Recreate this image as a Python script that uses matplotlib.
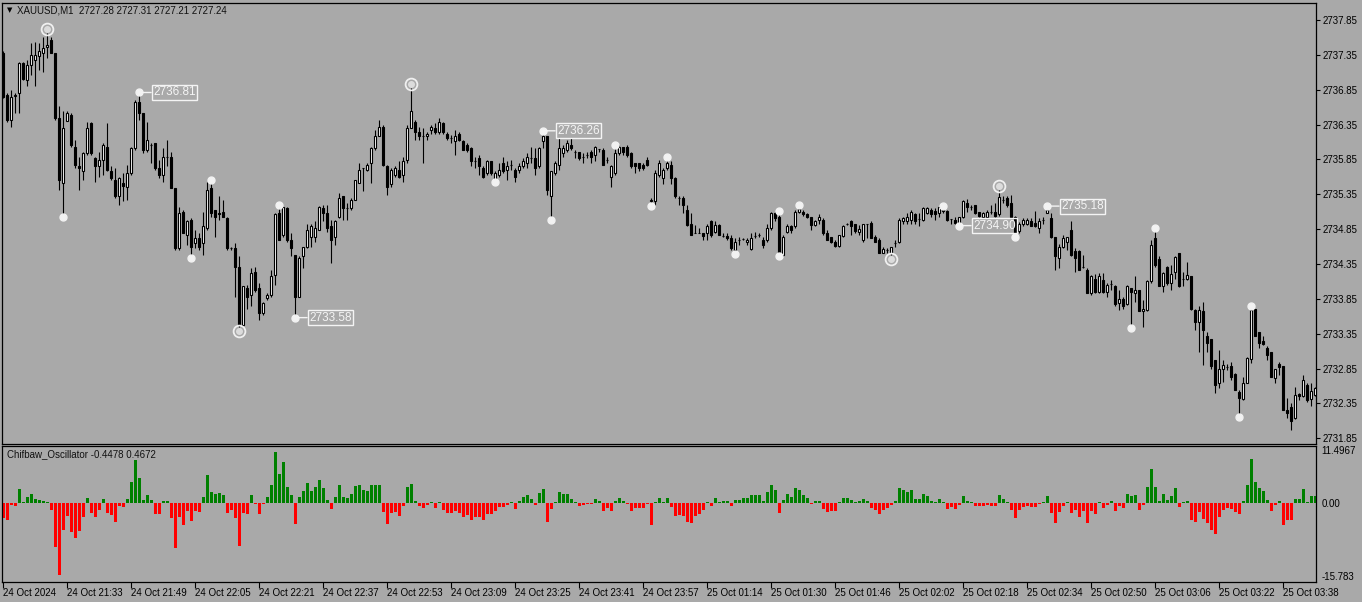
import matplotlib
matplotlib.use('Agg')
import matplotlib.pyplot as plt
import numpy as np
from matplotlib import transforms

plt.rcParams['font.family'] = ['Liberation Sans', 'DejaVu Sans']

# ---------------- data ----------------
opens = [
 2737.37, 2736.78, 2736.42, 2736.76, 2736.80, 2737.23, 2736.99, 2737.21, 2737.28, 2737.33,
 2737.37, 2737.46, 2737.56, 2737.37, 2736.44, 2735.51, 2736.40, 2736.49, 2736.03, 2735.75,
 2735.68, 2735.94, 2736.37, 2735.87, 2735.75, 2735.84, 2736.03, 2735.68, 2735.56, 2735.32,
 2735.51, 2735.46, 2735.65, 2736.01, 2736.68, 2736.51, 2735.99, 2736.06, 2736.08, 2735.72,
 2735.63, 2735.89, 2735.89, 2735.44, 2734.58, 2735.10, 2734.77, 2734.98, 2734.65, 2734.72,
 2734.65, 2734.86, 2735.44, 2735.13, 2735.08, 2735.10, 2735.01, 2734.58, 2734.58, 2734.31,
 2733.47, 2734.00, 2733.90, 2734.24, 2734.00, 2733.64, 2733.86, 2733.90, 2734.19, 2735.08,
 2734.77, 2735.15, 2734.70, 2734.48, 2733.88, 2734.46, 2734.60, 2734.74, 2734.74, 2734.84,
 2735.15, 2735.08, 2734.89, 2734.74, 2735.03, 2735.32, 2735.15, 2735.15, 2735.27, 2735.51,
 2735.72, 2735.70, 2735.80, 2736.01, 2736.18, 2736.32, 2735.75, 2735.49, 2735.63, 2735.70,
 2735.63, 2735.84, 2736.30, 2736.39, 2736.25, 2736.18, 2736.18, 2736.27, 2736.30, 2736.25,
 2736.37, 2736.22, 2736.15, 2736.11, 2736.22, 2736.11, 2736.06, 2736.01, 2735.82, 2735.87,
 2735.72, 2735.65, 2735.82, 2735.56, 2735.63, 2735.80, 2735.70, 2735.77, 2735.70, 2735.70,
 2735.75, 2735.80, 2735.87, 2735.87, 2735.75, 2736.11, 2736.18, 2735.32, 2735.65, 2735.77,
 2735.94, 2735.99, 2736.06, 2735.96, 2735.96, 2735.89, 2735.92, 2735.96, 2735.92, 2736.00,
 2735.99, 2735.84, 2735.60, 2735.65, 2735.94, 2736.03, 2736.03, 2735.94, 2735.80, 2735.80,
 2735.77, 2735.84, 2735.25, 2735.25, 2735.63, 2735.58, 2735.72, 2735.77, 2735.58, 2735.29,
 2735.29, 2735.13, 2734.93, 2734.79, 2734.79, 2734.79, 2734.79, 2734.96, 2734.81, 2734.91,
 2734.75, 2734.75, 2734.72, 2734.55, 2734.70, 2734.71, 2734.66, 2734.56, 2734.75, 2734.77,
 2734.70, 2734.70, 2734.86, 2735.08, 2735.03, 2734.48, 2734.81, 2734.89, 2734.89, 2735.10,
 2735.10, 2735.06, 2735.03, 2734.91, 2734.98, 2734.98, 2734.80, 2734.74, 2734.67, 2734.61,
 2734.75, 2734.93, 2734.96, 2734.93, 2734.81, 2734.70, 2734.93, 2734.94, 2734.74, 2734.70,
 2734.51, 2734.55, 2734.51, 2734.65, 2734.67, 2734.96, 2734.96, 2734.98, 2735.06, 2735.00,
 2734.98, 2735.08, 2735.13, 2735.11, 2735.08, 2735.15, 2735.11, 2735.00, 2734.98, 2734.93,
 2735.03, 2735.22, 2735.16, 2735.20, 2735.10, 2735.03, 2735.03, 2735.09, 2735.09, 2735.06,
 2735.27, 2735.29, 2735.22, 2735.03, 2734.82, 2734.93, 2734.93, 2734.96, 2734.94, 2734.86,
 2734.98, 2735.08, 2735.01, 2734.74, 2734.43, 2734.60, 2734.67, 2734.84, 2734.53, 2734.53,
 2734.31, 2734.27, 2733.93, 2734.14, 2733.95, 2734.12, 2733.95, 2734.06, 2734.03, 2733.79,
 2733.84, 2733.77, 2734.00, 2733.93, 2733.98, 2733.67, 2733.69, 2734.10, 2734.72, 2734.42,
 2734.03, 2734.31, 2734.08, 2734.24, 2734.50, 2734.14, 2734.14, 2734.17, 2733.69, 2733.52,
 2733.67, 2733.32, 2733.27, 2732.97, 2732.64, 2732.84, 2732.87, 2732.88, 2732.77, 2732.52,
 2732.41, 2732.64, 2732.98, 2733.70, 2733.38, 2733.25, 2733.14, 2733.08, 2732.71, 2732.92,
 2732.88, 2732.26, 2732.30, 2732.14, 2732.49, 2732.45, 2732.62, 2732.41, 2732.47]

highs = [
 2737.40, 2736.80, 2736.85, 2736.80, 2737.25, 2737.25, 2737.28, 2737.52, 2737.54, 2737.52,
 2737.61, 2737.66, 2737.60, 2737.38, 2736.61, 2736.54, 2736.54, 2736.51, 2736.13, 2735.89,
 2735.96, 2736.39, 2736.39, 2735.89, 2735.96, 2736.08, 2736.37, 2735.75, 2735.72, 2735.60,
 2735.65, 2735.77, 2736.03, 2736.70, 2736.81, 2736.51, 2736.39, 2736.08, 2736.08, 2735.84,
 2736.01, 2736.13, 2735.96, 2735.44, 2735.17, 2735.13, 2734.98, 2735.01, 2734.84, 2734.79,
 2735.10, 2735.53, 2735.56, 2735.13, 2735.32, 2735.27, 2735.03, 2734.60, 2734.65, 2734.46,
 2734.03, 2734.05, 2734.29, 2734.31, 2734.08, 2733.81, 2733.93, 2734.27, 2735.08, 2735.20,
 2735.17, 2735.17, 2734.79, 2734.48, 2734.46, 2734.60, 2734.93, 2734.93, 2734.96, 2735.18,
 2735.19, 2735.19, 2734.98, 2734.98, 2735.37, 2735.32, 2735.22, 2735.29, 2735.56, 2735.80,
 2735.73, 2735.80, 2736.03, 2736.27, 2736.42, 2736.35, 2735.77, 2735.72, 2735.75, 2735.82,
 2735.89, 2736.35, 2736.87, 2736.42, 2736.32, 2736.30, 2736.25, 2736.35, 2736.37, 2736.44,
 2736.39, 2736.25, 2736.20, 2736.27, 2736.25, 2736.13, 2736.08, 2736.03, 2735.89, 2735.92,
 2735.75, 2735.84, 2735.82, 2735.68, 2735.80, 2735.89, 2735.82, 2735.84, 2735.72, 2735.80,
 2735.87, 2735.94, 2736.03, 2736.01, 2736.03, 2736.26, 2736.18, 2735.68, 2735.82, 2736.15,
 2736.06, 2736.13, 2736.15, 2735.99, 2735.96, 2735.94, 2735.96, 2735.99, 2736.04, 2736.00,
 2736.01, 2735.89, 2735.77, 2736.06, 2736.05, 2736.03, 2736.05, 2735.96, 2735.80, 2735.80,
 2735.80, 2735.89, 2735.30, 2735.70, 2735.84, 2735.72, 2735.89, 2735.82, 2735.60, 2735.32,
 2735.32, 2735.20, 2735.08, 2734.91, 2734.86, 2734.79, 2734.93, 2734.98, 2734.96, 2734.93,
 2734.79, 2734.79, 2734.77, 2734.72, 2734.74, 2734.72, 2734.72, 2734.79, 2734.81, 2734.79,
 2734.74, 2734.93, 2735.10, 2735.10, 2735.11, 2734.77, 2734.93, 2734.91, 2735.13, 2735.20,
 2735.13, 2735.08, 2735.03, 2734.98, 2735.06, 2735.01, 2734.84, 2734.74, 2734.70, 2734.77,
 2734.91, 2734.94, 2734.98, 2734.93, 2734.91, 2734.93, 2734.93, 2734.96, 2734.77, 2734.72,
 2734.60, 2734.58, 2734.60, 2734.70, 2735.01, 2735.03, 2735.08, 2735.13, 2735.08, 2735.08,
 2735.17, 2735.17, 2735.15, 2735.15, 2735.17, 2735.18, 2735.13, 2735.00, 2735.03, 2735.03,
 2735.27, 2735.28, 2735.20, 2735.20, 2735.10, 2735.10, 2735.13, 2735.20, 2735.22, 2735.41,
 2735.32, 2735.32, 2735.34, 2735.04, 2734.95, 2735.01, 2735.01, 2735.01, 2735.11, 2735.01,
 2735.03, 2735.18, 2735.08, 2734.74, 2734.63, 2734.77, 2734.74, 2734.96, 2734.58, 2734.55,
 2734.48, 2734.29, 2734.19, 2734.21, 2734.22, 2734.22, 2734.07, 2734.12, 2734.05, 2733.98,
 2733.88, 2734.05, 2734.01, 2734.17, 2733.98, 2733.83, 2734.12, 2734.70, 2734.87, 2734.46,
 2734.24, 2734.32, 2734.34, 2734.46, 2734.51, 2734.24, 2734.38, 2734.17, 2733.71, 2733.74,
 2733.81, 2733.38, 2733.28, 2732.97, 2733.12, 2732.97, 2732.92, 2732.95, 2732.78, 2732.54,
 2732.73, 2733.02, 2733.75, 2733.71, 2733.38, 2733.31, 2733.17, 2733.08, 2732.85, 2732.95,
 2732.88, 2732.42, 2732.35, 2732.59, 2732.50, 2732.76, 2732.64, 2732.64, 2732.59]

lows = [
 2736.73, 2736.39, 2736.32, 2736.51, 2736.51, 2736.99, 2736.90, 2737.06, 2736.90, 2737.13,
 2737.11, 2737.30, 2737.37, 2736.42, 2735.41, 2735.03, 2736.40, 2736.03, 2735.72, 2735.41,
 2735.56, 2735.92, 2735.92, 2735.53, 2735.60, 2735.63, 2735.68, 2735.56, 2735.29, 2735.20,
 2735.25, 2735.27, 2735.63, 2735.99, 2736.42, 2735.94, 2735.96, 2735.80, 2735.70, 2735.58,
 2735.53, 2735.75, 2735.44, 2734.55, 2734.55, 2734.79, 2734.62, 2734.43, 2734.58, 2734.55,
 2734.48, 2734.84, 2735.03, 2734.74, 2734.98, 2735.03, 2734.55, 2734.55, 2733.88, 2733.45,
 2733.46, 2733.71, 2733.74, 2733.95, 2733.55, 2733.62, 2733.83, 2733.88, 2734.05, 2734.70,
 2734.74, 2734.67, 2734.46, 2733.58, 2733.88, 2734.29, 2734.58, 2734.60, 2734.67, 2734.84,
 2734.96, 2734.81, 2734.36, 2734.62, 2735.01, 2734.98, 2734.98, 2735.13, 2735.27, 2735.51,
 2735.39, 2735.68, 2735.51, 2735.99, 2736.18, 2735.75, 2735.34, 2735.46, 2735.60, 2735.58,
 2735.53, 2735.80, 2736.30, 2736.13, 2736.13, 2735.80, 2736.13, 2736.22, 2736.22, 2736.22,
 2736.22, 2736.13, 2736.08, 2735.92, 2736.11, 2735.99, 2735.96, 2735.75, 2735.72, 2735.63,
 2735.58, 2735.63, 2735.63, 2735.52, 2735.60, 2735.65, 2735.56, 2735.70, 2735.53, 2735.65,
 2735.72, 2735.72, 2735.80, 2735.63, 2735.72, 2736.01, 2735.34, 2734.98, 2735.63, 2735.70,
 2735.89, 2735.96, 2735.99, 2735.87, 2735.84, 2735.80, 2735.87, 2735.80, 2735.82, 2735.96,
 2735.77, 2735.80, 2735.46, 2735.63, 2735.92, 2735.92, 2735.89, 2735.72, 2735.65, 2735.68,
 2735.70, 2735.75, 2735.18, 2735.20, 2735.60, 2735.49, 2735.70, 2735.49, 2735.29, 2735.20,
 2735.08, 2734.89, 2734.77, 2734.79, 2734.79, 2734.70, 2734.70, 2734.74, 2734.79, 2734.77,
 2734.73, 2734.70, 2734.55, 2734.49, 2734.62, 2734.70, 2734.62, 2734.55, 2734.72, 2734.73,
 2734.58, 2734.67, 2734.84, 2734.96, 2734.46, 2734.47, 2734.79, 2734.79, 2734.86, 2735.08,
 2735.04, 2735.01, 2734.84, 2734.89, 2734.93, 2734.77, 2734.70, 2734.65, 2734.60, 2734.60,
 2734.74, 2734.91, 2734.77, 2734.79, 2734.77, 2734.67, 2734.72, 2734.72, 2734.67, 2734.50,
 2734.50, 2734.51, 2734.48, 2734.60, 2734.65, 2734.93, 2734.93, 2734.93, 2734.93, 2734.89,
 2734.96, 2735.06, 2735.03, 2734.98, 2735.03, 2735.08, 2734.97, 2734.93, 2734.93, 2734.90,
 2735.01, 2735.10, 2735.13, 2735.06, 2735.03, 2735.01, 2735.01, 2735.06, 2735.03, 2735.04,
 2735.22, 2735.17, 2735.01, 2734.74, 2734.79, 2734.89, 2734.91, 2734.89, 2734.88, 2734.79,
 2734.93, 2735.08, 2734.72, 2734.27, 2734.29, 2734.58, 2734.55, 2734.46, 2734.24, 2734.27,
 2734.29, 2733.93, 2733.91, 2733.93, 2733.93, 2733.93, 2733.88, 2733.98, 2733.75, 2733.69,
 2733.71, 2733.76, 2733.43, 2733.81, 2733.67, 2733.45, 2733.67, 2734.08, 2734.31, 2734.03,
 2733.95, 2734.05, 2733.98, 2734.14, 2734.02, 2734.03, 2734.12, 2733.69, 2733.40, 2733.08,
 2732.90, 2733.09, 2732.85, 2732.50, 2732.57, 2732.66, 2732.83, 2732.69, 2732.54, 2732.15,
 2732.40, 2732.64, 2732.93, 2733.31, 2733.14, 2733.19, 2732.97, 2732.73, 2732.64, 2732.76,
 2732.25, 2732.14, 2731.97, 2732.12, 2732.40, 2732.44, 2732.37, 2732.31, 2732.45]

closes = [
 2736.75, 2736.42, 2736.75, 2736.78, 2737.23, 2737.01, 2737.21, 2737.35, 2737.35, 2737.40,
 2737.45, 2737.49, 2737.38, 2736.44, 2735.56, 2736.30, 2736.51, 2736.06, 2735.77, 2735.73,
 2735.94, 2736.30, 2735.94, 2735.75, 2735.84, 2736.06, 2735.70, 2735.58, 2735.32, 2735.58,
 2735.47, 2735.65, 2736.01, 2736.68, 2736.51, 2735.99, 2736.13, 2736.06, 2735.72, 2735.63,
 2735.89, 2735.89, 2735.44, 2734.58, 2735.08, 2734.79, 2734.96, 2734.60, 2734.72, 2734.60,
 2734.89, 2735.41, 2735.08, 2735.03, 2735.06, 2735.03, 2734.58, 2734.58, 2734.31, 2733.47,
 2734.03, 2733.88, 2734.22, 2733.98, 2733.64, 2733.79, 2733.90, 2734.18, 2735.06, 2734.70,
 2735.17, 2734.70, 2734.58, 2733.88, 2734.43, 2734.60, 2734.84, 2734.89, 2734.87, 2735.17,
 2735.08, 2734.86, 2734.70, 2734.96, 2735.29, 2735.15, 2735.15, 2735.27, 2735.56, 2735.70,
 2735.72, 2735.77, 2736.01, 2736.18, 2736.32, 2735.77, 2735.46, 2735.70, 2735.72, 2735.60,
 2735.82, 2736.30, 2736.54, 2736.25, 2736.18, 2736.18, 2736.22, 2736.32, 2736.25, 2736.39,
 2736.25, 2736.15, 2736.15, 2736.19, 2736.13, 2735.99, 2735.99, 2735.82, 2735.82, 2735.75,
 2735.60, 2735.82, 2735.65, 2735.65, 2735.70, 2735.68, 2735.75, 2735.77, 2735.60, 2735.75,
 2735.82, 2735.89, 2735.87, 2735.72, 2736.01, 2736.18, 2735.41, 2735.68, 2735.80, 2736.01,
 2736.01, 2736.08, 2736.01, 2735.96, 2735.87, 2735.89, 2735.92, 2735.89, 2736.03, 2736.00,
 2735.77, 2735.84, 2735.75, 2735.94, 2736.03, 2735.96, 2735.92, 2735.75, 2735.75, 2735.72,
 2735.72, 2735.77, 2735.27, 2735.65, 2735.80, 2735.70, 2735.80, 2735.58, 2735.32, 2735.29,
 2735.20, 2734.91, 2734.77, 2734.79, 2734.79, 2734.75, 2734.89, 2734.77, 2734.91, 2734.77,
 2734.75, 2734.72, 2734.58, 2734.67, 2734.70, 2734.71, 2734.70, 2734.72, 2734.75, 2734.77,
 2734.62, 2734.86, 2735.08, 2735.01, 2734.51, 2734.74, 2734.89, 2734.84, 2735.10, 2735.14,
 2735.06, 2735.03, 2734.91, 2734.97, 2735.03, 2734.80, 2734.70, 2734.66, 2734.61, 2734.77,
 2734.89, 2734.93, 2734.89, 2734.82, 2734.85, 2734.93, 2734.93, 2734.72, 2734.67, 2734.51,
 2734.56, 2734.55, 2734.60, 2734.65, 2734.98, 2735.01, 2735.02, 2735.10, 2734.97, 2735.00,
 2735.15, 2735.15, 2735.06, 2735.06, 2735.16, 2735.11, 2734.98, 2735.00, 2734.94, 2735.03,
 2735.25, 2735.17, 2735.16, 2735.08, 2735.04, 2735.08, 2735.10, 2735.09, 2735.04, 2735.31,
 2735.27, 2735.20, 2735.03, 2734.79, 2734.93, 2734.98, 2734.98, 2734.89, 2734.89, 2734.96,
 2734.98, 2735.13, 2734.74, 2734.46, 2734.60, 2734.72, 2734.74, 2734.48, 2734.43, 2734.27,
 2734.31, 2733.93, 2734.17, 2733.95, 2734.17, 2733.95, 2734.05, 2734.06, 2733.77, 2733.84,
 2733.75, 2734.03, 2733.95, 2733.98, 2733.67, 2733.70, 2734.10, 2734.62, 2734.34, 2734.03,
 2734.22, 2734.08, 2734.21, 2734.45, 2734.03, 2734.14, 2734.19, 2733.70, 2733.52, 2733.69,
 2733.40, 2733.21, 2732.89, 2732.61, 2732.84, 2732.90, 2732.87, 2732.73, 2732.54, 2732.43,
 2732.64, 2733.00, 2733.69, 2733.31, 2733.22, 2733.20, 2733.04, 2732.73, 2732.84, 2732.87,
 2732.26, 2732.21, 2732.09, 2732.47, 2732.45, 2732.69, 2732.40, 2732.53, 2732.57]

oscillator = [
 -3.0, -3.4, -0.53, -0.73, 2.8, 0.2, 1.13, 1.8, 0.73, 0.6,
 0.33, 0.2, -1.4, -8.9, -14.4, -5.5, -2.7, -5.9, -7.1, -5.7,
 -2.9, 1.0, -2.1, -2.9, -1.4, 0.8, -2.1, -2.4, -3.9, -0.73,
 -0.93, 0.8, 4.1, 8.6, 5.0, 0.6, 1.6, 0.6, -2.3, -2.3,
 0.4, 0.4, -3.1, -9.1, -2.9, -4.5, -1.7, -3.7, -1.7, -1.9,
 1.2, 5.5, 2.1, 1.7, 1.9, 1.6, -2.1, -1.5, -3.1, -8.7,
 -2.1, -2.3, 1.5, -0.3, -2.3, -0.3, 1.2, 3.6, 10.1, 5.7,
 8.2, 3.1, 1.5, -4.3, 1.2, 2.4, 4.0, 2.4, 3.1, 4.6,
 2.9, 0.6, -1.3, 1.2, 3.6, 1.2, 1.0, 1.7, 3.4, 3.5,
 2.6, 2.3, 3.5, 3.6, 3.6, -1.9, -4.3, -2.1, -1.9, -2.7,
 -0.7, 3.2, 3.8, 0.4, -0.7, -1.1, -0.5, 0.1, -1.1, 0.1,
 -1.5, -2.1, -2.1, -1.7, -2.0, -2.9, -2.5, -3.5, -2.9, -2.9,
 -3.5, -2.2, -2.3, -1.7, -0.9, -0.9, -0.4, 0.2, -1.2, 0.4,
 1.1, 1.5, 0.8, -0.5, 2.0, 2.8, -3.9, -1.2, 0.2, 2.1,
 1.7, 1.7, 0.8, 0.2, -0.7, -0.5, -0.3, -0.3, 0.8, 0.4,
 -1.7, -1.1, -1.6, 0.4, 1.0, 0.4, -0.3, -1.6, -1.1, -1.1,
 -1.1, -0.3, -4.5, 0.2, 1.0, 0.2, 1.0, -0.9, -2.7, -2.4,
 -2.7, -3.9, -4.1, -2.7, -2.2, -1.4, 0.2, -0.7, 1.0, 0.1,
 0.3, 0.3, -0.7, 0.6, 0.6, 1.0, 1.0, 1.5, 1.6, 1.6,
 0.4, 2.1, 3.6, 2.6, -2.1, 0.6, 1.8, 1.2, 2.9, 2.5,
 1.5, 1.0, -0.3, 0.4, 0.4, -1.3, -1.9, -1.6, -1.6, 0.2,
 1.0, 1.0, 0.6, 0.1, 0.4, 0.8, 0.4, -1.1, -1.4, -2.3,
 -1.4, -1.1, -0.5, 0.4, 3.0, 2.6, 2.2, 2.5, 0.8, 0.8,
 1.8, 1.3, 0.4, 0.2, 0.8, 0.2, -1.2, -0.9, -1.2, -0.5,
 1.4, 0.4, 0.2, -0.7, -0.6, -0.7, -0.5, -0.7, -0.7, 1.6,
 0.8, 0.2, -1.5, -3.1, -1.5, -0.9, -0.6, -0.9, -0.9, -0.3,
 0.2, 1.4, -2.1, -4.1, -1.9, -0.7, 0.2, -2.1, -1.5, -2.9,
 -1.6, -4.1, -1.6, -2.3, 0.2, -1.1, -0.4, 0.4, -1.7, -0.7,
 -1.0, 1.8, 1.4, 1.6, -1.4, -0.5, 3.2, 6.8, 3.2, 0.3,
 1.8, 0.6, 1.4, 3.0, -0.9, 0.2, 0.3, -3.4, -3.9, -1.9,
 -3.2, -4.1, -5.4, -6.3, -2.9, -1.4, -1.1, -1.3, -1.9, -2.3,
 0.4, 3.6, 8.8, 4.2, 3.0, 2.4, 0.6, -1.7, -0.5, 0.4,
 -4.5, -3.5, -3.5, 0.8, 0.8, 2.8, 0.2, 1.4, 1.4]

# swing points (bar indices)
major_highs = [11, 102, 249]
major_lows = [59, 222]
dot_highs = [34, 52, 69, 135, 153, 166, 194, 199, 235, 261, 288, 312]
dot_lows = [15, 47, 73, 123, 137, 162, 183, 194, 239, 253, 282, 309]
labelled_highs = [34, 135, 261]
labelled_lows = [73, 239]

price_ticks = [2731.85, 2732.35, 2732.85, 2733.35, 2733.85, 2734.35, 2734.85,
               2735.35, 2735.85, 2736.35, 2736.85, 2737.35, 2737.85]
osc_ticks = [11.4967, 0.0, -15.783]
osc_tick_labels = ['11.4967', '0.00', '-15.783']
time_tick_bars = [0, 16, 32, 48, 64, 80, 96, 112, 128, 144, 160, 176, 192, 208,
                  224, 240, 256, 272, 288, 304, 320]
time_labels = ['24 Oct 2024', '24 Oct 21:33', '24 Oct 21:49', '24 Oct 22:05',
               '24 Oct 22:21', '24 Oct 22:37', '24 Oct 22:53', '24 Oct 23:09',
               '24 Oct 23:25', '24 Oct 23:41', '24 Oct 23:57', '25 Oct 01:14',
               '25 Oct 01:30', '25 Oct 01:46', '25 Oct 02:02', '25 Oct 02:18',
               '25 Oct 02:34', '25 Oct 02:50', '25 Oct 03:06', '25 Oct 03:22',
               '25 Oct 03:38']
header_text = 'XAUUSD,M1  2727.28 2727.31 2727.21 2727.24'
osc_name = 'Chifbaw_Oscillator -0.4478 0.4672'

# ---------------- figure ----------------
W, H = 1362, 602
BG = '#A9A9A9'
fig = plt.figure(figsize=(W / 100, H / 100), dpi=100)
fig.patch.set_facecolor(BG)


def box(x0, y0, x1, y1):
    return [x0 / W, 1 - y1 / H, (x1 - x0) / W, (y1 - y0) / H]


ax = fig.add_axes(box(2, 2.5, 1316, 443.5))
ax2 = fig.add_axes(box(2, 445.5, 1316, 581.5))
for a in (ax, ax2):
    a.set_facecolor(BG)
    for s in a.spines.values():
        s.set_color('black')
        s.set_linewidth(0.9)

o = np.array(opens)
h = np.array(highs)
l = np.array(lows)
c = np.array(closes)
xb = np.arange(len(c))

# candles
ax.vlines(xb, l, h, color='black', lw=0.8, zorder=2)
up = c >= o
bot = np.minimum(o, c)
hgt = np.abs(c - o)
ax.bar(xb[up], hgt[up], bottom=bot[up], width=0.55, color='white',
       edgecolor='black', lw=0.8, zorder=3)
ax.bar(xb[~up], hgt[~up], bottom=bot[~up], width=0.55, color='black',
       edgecolor='black', lw=0.8, zorder=3)

# swing dots
DOT = '#F2F2F2'
ax.plot(dot_highs, h[dot_highs], 'o', ms=5, mfc=DOT, mec=DOT, zorder=6)
ax.plot(dot_lows, l[dot_lows], 'o', ms=5, mfc=DOT, mec=DOT, zorder=6)

# major swing circles (drawn a few pixels beyond the extreme)
t_up = transforms.offset_copy(ax.transData, fig=fig, x=0, y=4, units='dots')
t_dn = transforms.offset_copy(ax.transData, fig=fig, x=0, y=-4, units='dots')
for idx, vals, tr in ((major_highs, h, t_up), (major_lows, l, t_dn)):
    ax.plot(idx, vals[idx], 'o', ms=8.5, mfc='none', mec='#F0F0F0', mew=1.3,
            transform=tr, zorder=6)
    ax.plot(idx, vals[idx], 'o', ms=4, mfc='#DCDCDC', mec='#DCDCDC',
            transform=tr, zorder=6)

# price labels
for idx, vals in ((labelled_highs, h), (labelled_lows, l)):
    for i in idx:
        v = vals[i]
        ax.annotate(f'{v:.2f}', xy=(i, v), xytext=(14, 0),
                    textcoords='offset pixels', ha='left', va='center',
                    fontsize=8.5, color='#F4F4F4', zorder=7,
                    bbox=dict(boxstyle='square,pad=0.12', fc='none',
                              ec='#F4F4F4', lw=1.0),
                    arrowprops=dict(arrowstyle='-', color='#F4F4F4', lw=1.0,
                                    shrinkA=0, shrinkB=2))

ax.set_xlim(-0.25, 328.25)
ax.set_ylim(2731.774, 2738.101)
ax.yaxis.tick_right()
ax.set_yticks(price_ticks)
ax.set_yticklabels([f'{t:.2f}' for t in price_ticks])
ax.tick_params(axis='y', direction='out', length=3, width=0.8, pad=2,
               labelsize=7, colors='black')
ax.tick_params(axis='x', bottom=False, labelbottom=False)

# oscillator
osc = np.array(oscillator)
ax2.bar(xb, osc, width=0.75, color=np.where(osc >= 0, '#008000', '#FF0000'),
        lw=0, zorder=2)
ax2.set_xlim(-0.25, 328.25)
ax2.set_ylim(-15.783, 11.4967)
ax2.yaxis.tick_right()
ax2.set_yticks(osc_ticks)
ax2.set_yticklabels(osc_tick_labels)
ax2.tick_params(axis='y', length=0, pad=4, labelsize=7, colors='black')
ylbl = ax2.get_yticklabels()
ylbl[0].set_va('top')
ylbl[2].set_va('bottom')
ax2.set_xticks(time_tick_bars)
ax2.set_xticklabels(time_labels, ha='left')
ax2.tick_params(axis='x', direction='out', length=4, width=0.8, pad=1,
                labelsize=7, colors='black')

# headers
fig.text(7 / W, 1 - 10.5 / H, '\u25BC', fontsize=5, family='DejaVu Sans',
         va='center', ha='left', color='black')
fig.text(17 / W, 1 - 10.5 / H, header_text, fontsize=7, va='center',
         ha='left', color='#111111')
fig.text(7 / W, 1 - 454 / H, osc_name, fontsize=7, va='center', ha='left',
         color='#111111')

fig.savefig('out.png', dpi=100, facecolor=BG)
